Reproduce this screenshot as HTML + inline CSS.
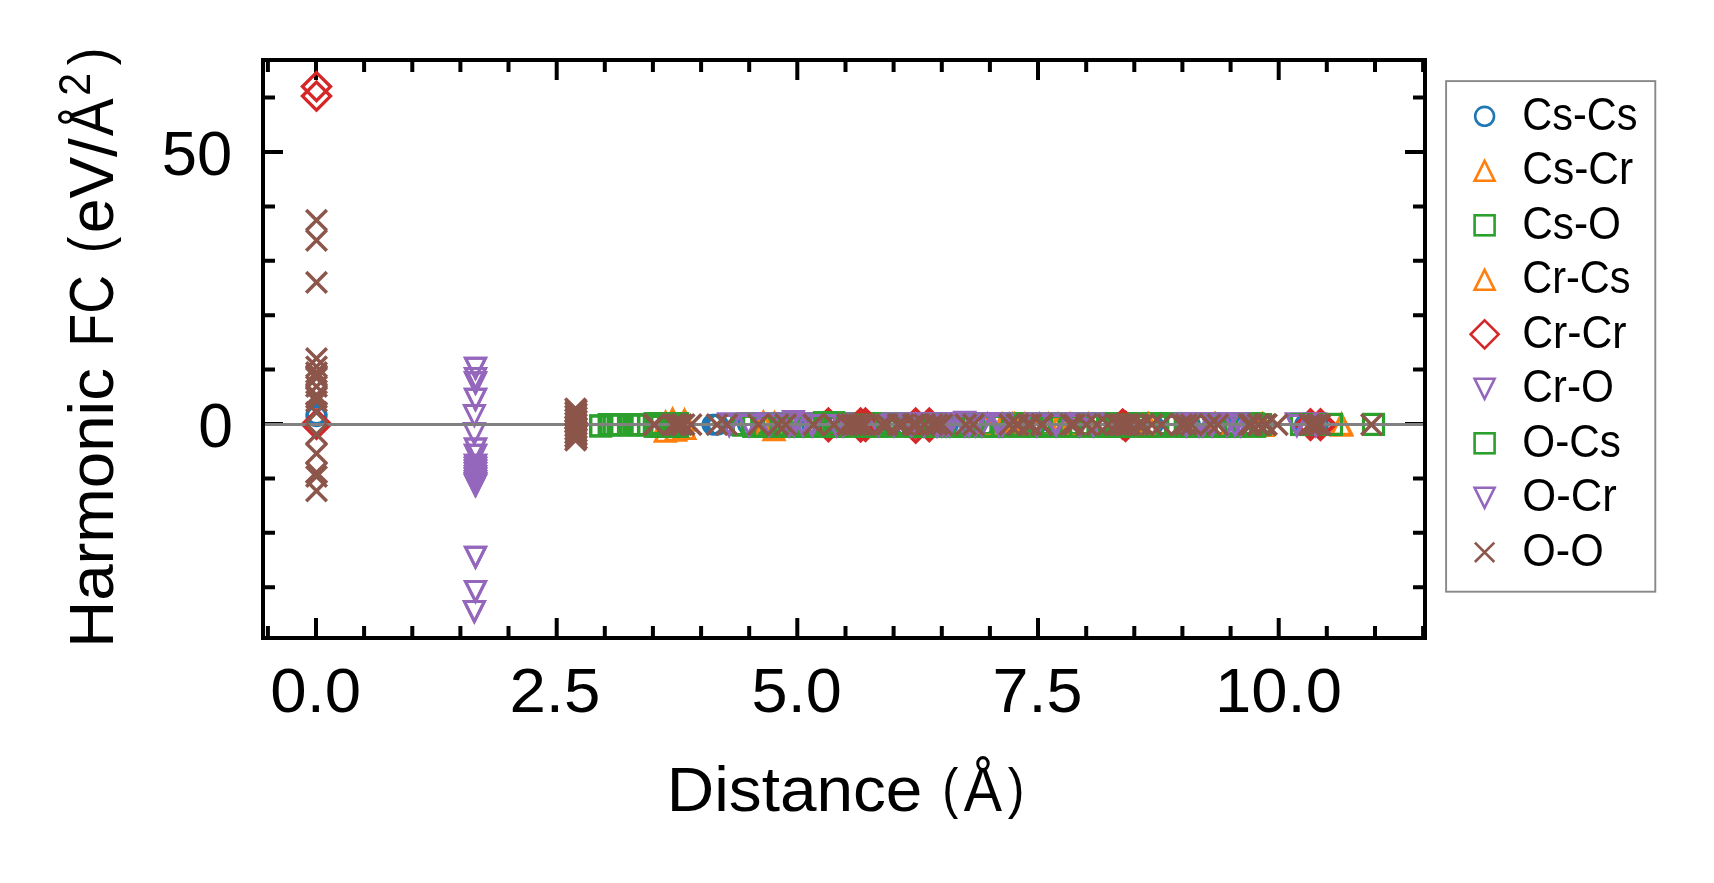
<!DOCTYPE html>
<html><head><meta charset="utf-8"><title>chart</title><style>html,body{margin:0;padding:0;background:#fff}svg{display:block;will-change:transform}</style></head><body><svg width="1714" height="883" viewBox="0 0 1714 883" font-family="'Liberation Sans', sans-serif">
<rect width="1714" height="883" fill="#fff"/>
<path d="M316.0 60v20M316.0 638v-20M556.7 60v20M556.7 638v-20M797.3 60v20M797.3 638v-20M1038.0 60v20M1038.0 638v-20M1278.7 60v20M1278.7 638v-20M267.9 60v12M267.9 638v-12M364.1 60v12M364.1 638v-12M412.3 60v12M412.3 638v-12M460.4 60v12M460.4 638v-12M508.5 60v12M508.5 638v-12M604.8 60v12M604.8 638v-12M652.9 60v12M652.9 638v-12M701.1 60v12M701.1 638v-12M749.2 60v12M749.2 638v-12M845.5 60v12M845.5 638v-12M893.6 60v12M893.6 638v-12M941.8 60v12M941.8 638v-12M989.9 60v12M989.9 638v-12M1086.2 60v12M1086.2 638v-12M1134.3 60v12M1134.3 638v-12M1182.4 60v12M1182.4 638v-12M1230.6 60v12M1230.6 638v-12M1326.8 60v12M1326.8 638v-12M1375.0 60v12M1375.0 638v-12M1423.1 60v12M1423.1 638v-12M263 152.0h20M1425 152.0h-20M263 424.0h20M1425 424.0h-20M263 97.6h12M1425 97.6h-12M263 206.4h12M1425 206.4h-12M263 260.8h12M1425 260.8h-12M263 315.2h12M1425 315.2h-12M263 369.6h12M1425 369.6h-12M263 478.4h12M1425 478.4h-12M263 532.8h12M1425 532.8h-12M263 587.2h12M1425 587.2h-12" stroke="#000" stroke-width="4" fill="none"/>
<g fill="none" stroke-width="3.5" stroke-linejoin="miter" stroke-miterlimit="10">
<g stroke="#1f77b4" stroke-width="2.9"><circle cx="316.5" cy="414.1" r="9.45"/><circle cx="316.5" cy="415.2" r="9.45"/><circle cx="316.5" cy="416.4" r="9.45"/><circle cx="712.4" cy="424.6" r="9.45"/><circle cx="714.0" cy="424.6" r="9.45"/><circle cx="716.0" cy="424.6" r="9.45"/><circle cx="718.0" cy="424.6" r="9.45"/><circle cx="748.0" cy="424.6" r="9.45"/><circle cx="812.0" cy="424.6" r="9.45"/><circle cx="838.0" cy="424.6" r="9.45"/><circle cx="880.0" cy="424.6" r="9.45"/><circle cx="905.0" cy="424.6" r="9.45"/><circle cx="948.0" cy="424.6" r="9.45"/><circle cx="985.0" cy="424.6" r="9.45"/><circle cx="1010.0" cy="424.6" r="9.45"/><circle cx="1036.0" cy="424.6" r="9.45"/><circle cx="1054.5" cy="424.6" r="9.45"/><circle cx="1059.0" cy="424.6" r="9.45"/><circle cx="1098.0" cy="424.6" r="9.45"/><circle cx="1131.0" cy="424.6" r="9.45"/><circle cx="1153.0" cy="424.6" r="9.45"/><circle cx="1190.0" cy="424.6" r="9.45"/><circle cx="1222.0" cy="424.6" r="9.45"/><circle cx="1246.0" cy="424.6" r="9.45"/><circle cx="1262.0" cy="424.6" r="9.45"/><circle cx="1305.0" cy="424.6" r="9.45"/><circle cx="1318.0" cy="424.6" r="9.45"/></g>
<g stroke="#ff7f0e" stroke-width="3.1"><path d="M665.6 412.2L655.6 432.2H675.6Z"/><path d="M672.6 409.1L662.6 429.1H682.6Z"/><path d="M684.5 410.1L674.5 430.1H694.5Z"/><path d="M763.4 412.2L753.4 432.2H773.4Z"/><path d="M774.5 412.9L764.5 432.9H784.5Z"/><path d="M987.5 414.3L977.5 434.3H997.5Z"/><path d="M1002.2 414.3L992.2 434.3H1012.2Z"/><path d="M1009.2 414.3L999.2 434.3H1019.2Z"/><path d="M1012.7 414.3L1002.7 434.3H1022.7Z"/><path d="M1014.5 414.3L1004.5 434.3H1024.5Z"/><path d="M1024.3 414.3L1014.3 434.3H1034.3Z"/><path d="M1039.5 414.3L1029.5 434.3H1049.5Z"/><path d="M1048.4 414.3L1038.4 434.3H1058.4Z"/><path d="M1058.0 414.3L1048.0 434.3H1068.0Z"/><path d="M1070.1 414.3L1060.1 434.3H1080.1Z"/><path d="M1088.3 414.3L1078.3 434.3H1098.3Z"/><path d="M1147.9 414.3L1137.9 434.3H1157.9Z"/><path d="M1148.5 414.3L1138.5 434.3H1158.5Z"/><path d="M1214.5 414.3L1204.5 434.3H1224.5Z"/><path d="M1215.3 414.3L1205.3 434.3H1225.3Z"/><path d="M1262.5 414.3L1252.5 434.3H1272.5Z"/><path d="M1341.5 414.3L1331.5 434.3H1351.5Z"/></g>
<g stroke="#2ca02c" stroke-width="3.1"><rect x="590.7" y="415.9" width="20.0" height="20.0"/><rect x="599.3" y="414.6" width="20.0" height="20.0"/><rect x="600.6" y="414.6" width="20.0" height="20.0"/><rect x="604.1" y="414.6" width="20.0" height="20.0"/><rect x="608.2" y="414.6" width="20.0" height="20.0"/><rect x="611.7" y="414.6" width="20.0" height="20.0"/><rect x="618.5" y="414.6" width="20.0" height="20.0"/><rect x="624.4" y="414.6" width="20.0" height="20.0"/><rect x="627.0" y="414.6" width="20.0" height="20.0"/><rect x="630.5" y="414.6" width="20.0" height="20.0"/><rect x="631.7" y="414.6" width="20.0" height="20.0"/><rect x="638.7" y="414.6" width="20.0" height="20.0"/><rect x="645.0" y="413.6" width="20.0" height="20.0"/><rect x="648.0" y="413.6" width="20.0" height="20.0"/><rect x="651.0" y="413.6" width="20.0" height="20.0"/><rect x="659.0" y="413.6" width="20.0" height="20.0"/><rect x="662.0" y="413.6" width="20.0" height="20.0"/><rect x="665.0" y="413.6" width="20.0" height="20.0"/><rect x="667.6" y="413.6" width="20.0" height="20.0"/><rect x="731.7" y="414.5" width="20.0" height="20.0"/><rect x="742.0" y="413.6" width="20.0" height="20.0"/><rect x="753.0" y="413.6" width="20.0" height="20.0"/><rect x="762.0" y="414.5" width="20.0" height="20.0"/><rect x="769.6" y="413.6" width="20.0" height="20.0"/><rect x="777.5" y="413.6" width="20.0" height="20.0"/><rect x="787.2" y="414.5" width="20.0" height="20.0"/><rect x="796.9" y="413.6" width="20.0" height="20.0"/><rect x="806.6" y="413.6" width="20.0" height="20.0"/><rect x="816.3" y="414.5" width="20.0" height="20.0"/><rect x="826.0" y="413.6" width="20.0" height="20.0"/><rect x="835.7" y="413.6" width="20.0" height="20.0"/><rect x="845.4" y="414.5" width="20.0" height="20.0"/><rect x="855.1" y="413.6" width="20.0" height="20.0"/><rect x="864.8" y="413.6" width="20.0" height="20.0"/><rect x="874.5" y="414.5" width="20.0" height="20.0"/><rect x="884.2" y="413.6" width="20.0" height="20.0"/><rect x="893.9" y="413.6" width="20.0" height="20.0"/><rect x="903.6" y="414.5" width="20.0" height="20.0"/><rect x="913.3" y="413.6" width="20.0" height="20.0"/><rect x="923.0" y="413.6" width="20.0" height="20.0"/><rect x="932.7" y="414.5" width="20.0" height="20.0"/><rect x="942.4" y="413.6" width="20.0" height="20.0"/><rect x="952.1" y="413.6" width="20.0" height="20.0"/><rect x="961.8" y="414.5" width="20.0" height="20.0"/><rect x="971.5" y="413.6" width="20.0" height="20.0"/><rect x="981.2" y="413.6" width="20.0" height="20.0"/><rect x="990.9" y="414.5" width="20.0" height="20.0"/><rect x="1000.6" y="413.6" width="20.0" height="20.0"/><rect x="1010.3" y="413.6" width="20.0" height="20.0"/><rect x="1020.0" y="414.5" width="20.0" height="20.0"/><rect x="1029.7" y="413.6" width="20.0" height="20.0"/><rect x="1039.4" y="413.6" width="20.0" height="20.0"/><rect x="1049.1" y="414.5" width="20.0" height="20.0"/><rect x="1058.8" y="413.6" width="20.0" height="20.0"/><rect x="1068.5" y="413.6" width="20.0" height="20.0"/><rect x="1078.2" y="414.5" width="20.0" height="20.0"/><rect x="1087.9" y="413.6" width="20.0" height="20.0"/><rect x="1097.6" y="413.6" width="20.0" height="20.0"/><rect x="1107.3" y="414.5" width="20.0" height="20.0"/><rect x="1117.0" y="413.6" width="20.0" height="20.0"/><rect x="1126.7" y="413.6" width="20.0" height="20.0"/><rect x="1136.4" y="414.5" width="20.0" height="20.0"/><rect x="1146.1" y="413.6" width="20.0" height="20.0"/><rect x="1155.8" y="413.6" width="20.0" height="20.0"/><rect x="1165.5" y="414.5" width="20.0" height="20.0"/><rect x="1175.2" y="413.6" width="20.0" height="20.0"/><rect x="1184.9" y="413.6" width="20.0" height="20.0"/><rect x="1194.6" y="414.5" width="20.0" height="20.0"/><rect x="1204.3" y="413.6" width="20.0" height="20.0"/><rect x="1214.0" y="413.6" width="20.0" height="20.0"/><rect x="1223.7" y="414.5" width="20.0" height="20.0"/><rect x="1233.4" y="413.6" width="20.0" height="20.0"/><rect x="1243.1" y="413.6" width="20.0" height="20.0"/><rect x="1250.5" y="414.5" width="20.0" height="20.0"/><rect x="1291.5" y="414.4" width="20.0" height="20.0"/><rect x="1321.5" y="414.4" width="20.0" height="20.0"/><rect x="1363.5" y="414.4" width="20.0" height="20.0"/></g>
<g stroke="#ff7f0e" stroke-width="3.1"><path d="M665.3 421.3L655.3 441.3H675.3Z"/><path d="M675.7 420.3L665.7 440.3H685.7Z"/><path d="M684.8 418.5L674.8 438.5H694.8Z"/><path d="M765.1 416.4L755.1 436.4H775.1Z"/><path d="M774.0 419.6L764.0 439.6H784.0Z"/><path d="M987.9 415.4L977.9 435.4H997.9Z"/><path d="M1002.6 415.4L992.6 435.4H1012.6Z"/><path d="M1009.6 415.4L999.6 435.4H1019.6Z"/><path d="M1013.1 415.4L1003.1 435.4H1023.1Z"/><path d="M1014.9 415.4L1004.9 435.4H1024.9Z"/><path d="M1024.7 415.4L1014.7 435.4H1034.7Z"/><path d="M1039.9 415.4L1029.9 435.4H1049.9Z"/><path d="M1048.8 415.4L1038.8 435.4H1058.8Z"/><path d="M1058.4 415.4L1048.4 435.4H1068.4Z"/><path d="M1070.5 415.4L1060.5 435.4H1080.5Z"/><path d="M1088.7 415.4L1078.7 435.4H1098.7Z"/><path d="M1148.3 415.4L1138.3 435.4H1158.3Z"/><path d="M1148.9 415.4L1138.9 435.4H1158.9Z"/><path d="M1214.9 415.4L1204.9 435.4H1224.9Z"/><path d="M1215.7 415.4L1205.7 435.4H1225.7Z"/><path d="M1262.9 415.4L1252.9 435.4H1272.9Z"/><path d="M1341.5 415.3L1331.5 435.3H1351.5Z"/></g>
<g stroke="#d62728" stroke-width="3.4"><path d="M316.5 72.6L330.5 86.6L316.5 100.6L302.5 86.6Z"/><path d="M316.5 82.1L330.5 96.1L316.5 110.1L302.5 96.1Z"/><path d="M316.5 410.3L330.5 424.3L316.5 438.3L302.5 424.3Z"/><path d="M828.4 409.1L842.4 423.1L828.4 437.1L814.4 423.1Z"/><path d="M828.4 412.6L842.4 426.6L828.4 440.6L814.4 426.6Z"/><path d="M860.6 409.1L874.6 423.1L860.6 437.1L846.6 423.1Z"/><path d="M865.5 409.1L879.5 423.1L865.5 437.1L851.5 423.1Z"/><path d="M860.6 412.8L874.6 426.8L860.6 440.8L846.6 426.8Z"/><path d="M865.5 412.3L879.5 426.3L865.5 440.3L851.5 426.3Z"/><path d="M915.7 409.1L929.7 423.1L915.7 437.1L901.7 423.1Z"/><path d="M915.7 414.0L929.7 428.0L915.7 442.0L901.7 428.0Z"/><path d="M929.3 409.1L943.3 423.1L929.3 437.1L915.3 423.1Z"/><path d="M929.3 412.6L943.3 426.6L929.3 440.6L915.3 426.6Z"/><path d="M1122.7 410.1L1136.7 424.1L1122.7 438.1L1108.7 424.1Z"/><path d="M1125.5 412.3L1139.5 426.3L1125.5 440.3L1111.5 426.3Z"/><path d="M1310.5 409.9L1324.5 423.9L1310.5 437.9L1296.5 423.9Z"/><path d="M1320.5 409.9L1334.5 423.9L1320.5 437.9L1306.5 423.9Z"/><path d="M1310.5 411.3L1324.5 425.3L1310.5 439.3L1296.5 425.3Z"/><path d="M1320.5 411.3L1334.5 425.3L1320.5 439.3L1306.5 425.3Z"/></g>
<g stroke="#9467bd" stroke-width="3.0"><path d="M475.5 378.2L465.5 358.2H485.5Z"/><path d="M475.5 388.5L465.5 368.5H485.5Z"/><path d="M475.5 392.8L465.5 372.8H485.5Z"/><path d="M475.5 409.3L465.5 389.3H485.5Z"/><path d="M475.5 459.1L465.5 439.1H485.5Z"/><path d="M475.5 465.3L465.5 445.3H485.5Z"/><path d="M475.5 475.3L465.5 455.3H485.5Z"/><path d="M475.5 478.2L465.5 458.2H485.5Z"/><path d="M475.5 481.0L465.5 461.0H485.5Z"/><path d="M475.5 483.6L465.5 463.6H485.5Z"/><path d="M475.5 486.4L465.5 466.4H485.5Z"/><path d="M475.5 489.0L465.5 469.0H485.5Z"/><path d="M475.5 491.5L465.5 471.5H485.5Z"/><path d="M475.5 493.6L465.5 473.6H485.5Z"/><path d="M475.5 495.3L465.5 475.3H485.5Z"/><path d="M475.5 567.2L465.5 547.2H485.5Z"/><path d="M475.5 601.4L465.5 581.4H485.5Z"/><path d="M474.4 621.5L464.4 601.5H484.4Z"/><path d="M474.4 425.5L464.4 405.5H484.4Z"/><path d="M474.4 443.5L464.4 423.5H484.4Z"/><path d="M728.6 433.7L718.6 413.7H738.6Z"/><path d="M748.5 433.7L738.5 413.7H758.5Z"/><path d="M768.5 433.7L758.5 413.7H778.5Z"/><path d="M788.5 433.7L778.5 413.7H798.5Z"/><path d="M793.4 433.7L783.4 413.7H803.4Z"/><path d="M802.5 433.7L792.5 413.7H812.5Z"/><path d="M811.6 433.7L801.6 413.7H821.6Z"/><path d="M835.8 433.7L825.8 413.7H845.8Z"/><path d="M842.4 433.7L832.4 413.7H852.4Z"/><path d="M893.3 433.7L883.3 413.7H903.3Z"/><path d="M911.0 433.7L901.0 413.7H921.0Z"/><path d="M923.3 433.7L913.3 413.7H933.3Z"/><path d="M935.6 433.7L925.6 413.7H945.6Z"/><path d="M937.0 433.7L927.0 413.7H947.0Z"/><path d="M941.2 433.7L931.2 413.7H951.2Z"/><path d="M945.4 433.7L935.4 413.7H955.4Z"/><path d="M948.9 433.7L938.9 413.7H958.9Z"/><path d="M964.3 433.7L954.3 413.7H974.3Z"/><path d="M968.5 433.7L958.5 413.7H978.5Z"/><path d="M974.8 433.7L964.8 413.7H984.8Z"/><path d="M981.2 433.7L971.2 413.7H991.2Z"/><path d="M998.4 433.7L988.4 413.7H1008.4Z"/><path d="M1001.5 433.7L991.5 413.7H1011.5Z"/><path d="M1036.2 433.7L1026.2 413.7H1046.2Z"/><path d="M1055.4 433.7L1045.4 413.7H1065.4Z"/><path d="M1079.2 433.7L1069.2 413.7H1089.2Z"/><path d="M1092.6 433.7L1082.6 413.7H1102.6Z"/><path d="M1185.7 433.7L1175.7 413.7H1195.7Z"/><path d="M1198.4 433.7L1188.4 413.7H1208.4Z"/><path d="M1202.3 433.7L1192.3 413.7H1212.3Z"/><path d="M1211.4 433.7L1201.4 413.7H1221.4Z"/><path d="M1226.4 433.7L1216.4 413.7H1236.4Z"/><path d="M1234.5 433.7L1224.5 413.7H1244.5Z"/><path d="M1239.7 433.7L1229.7 413.7H1249.7Z"/><path d="M1296.3 433.7L1286.3 413.7H1306.3Z"/><path d="M1315.2 433.7L1305.2 413.7H1325.2Z"/><path d="M793.4 431.6L783.4 411.6H803.4Z"/><path d="M964.7 432.2L954.7 412.2H974.7Z"/></g>
<g stroke="#2ca02c" stroke-width="3.1"><rect x="590.7" y="415.9" width="20.0" height="20.0"/><rect x="599.3" y="414.6" width="20.0" height="20.0"/><rect x="600.6" y="414.6" width="20.0" height="20.0"/><rect x="604.1" y="414.6" width="20.0" height="20.0"/><rect x="608.2" y="414.6" width="20.0" height="20.0"/><rect x="611.7" y="414.6" width="20.0" height="20.0"/><rect x="618.5" y="414.6" width="20.0" height="20.0"/><rect x="624.4" y="414.6" width="20.0" height="20.0"/><rect x="627.0" y="414.6" width="20.0" height="20.0"/><rect x="630.5" y="414.6" width="20.0" height="20.0"/><rect x="631.7" y="414.6" width="20.0" height="20.0"/><rect x="638.7" y="414.6" width="20.0" height="20.0"/><rect x="645.0" y="416.3" width="20.0" height="20.0"/><rect x="648.0" y="416.3" width="20.0" height="20.0"/><rect x="651.0" y="416.3" width="20.0" height="20.0"/><rect x="659.0" y="416.3" width="20.0" height="20.0"/><rect x="662.0" y="416.3" width="20.0" height="20.0"/><rect x="665.0" y="416.3" width="20.0" height="20.0"/><rect x="667.6" y="416.3" width="20.0" height="20.0"/><rect x="733.4" y="415.2" width="20.0" height="20.0"/><rect x="743.7" y="416.4" width="20.0" height="20.0"/><rect x="754.7" y="416.4" width="20.0" height="20.0"/><rect x="763.7" y="416.4" width="20.0" height="20.0"/><rect x="771.3" y="415.2" width="20.0" height="20.0"/><rect x="779.2" y="416.4" width="20.0" height="20.0"/><rect x="788.9" y="416.4" width="20.0" height="20.0"/><rect x="798.6" y="416.4" width="20.0" height="20.0"/><rect x="808.3" y="415.2" width="20.0" height="20.0"/><rect x="818.0" y="416.4" width="20.0" height="20.0"/><rect x="827.7" y="416.4" width="20.0" height="20.0"/><rect x="837.4" y="416.4" width="20.0" height="20.0"/><rect x="847.1" y="415.2" width="20.0" height="20.0"/><rect x="856.8" y="416.4" width="20.0" height="20.0"/><rect x="866.5" y="416.4" width="20.0" height="20.0"/><rect x="876.2" y="416.4" width="20.0" height="20.0"/><rect x="885.9" y="415.2" width="20.0" height="20.0"/><rect x="895.6" y="416.4" width="20.0" height="20.0"/><rect x="905.3" y="416.4" width="20.0" height="20.0"/><rect x="915.0" y="416.4" width="20.0" height="20.0"/><rect x="924.7" y="415.2" width="20.0" height="20.0"/><rect x="934.4" y="416.4" width="20.0" height="20.0"/><rect x="944.1" y="416.4" width="20.0" height="20.0"/><rect x="953.8" y="416.4" width="20.0" height="20.0"/><rect x="963.5" y="415.2" width="20.0" height="20.0"/><rect x="973.2" y="416.4" width="20.0" height="20.0"/><rect x="982.9" y="416.4" width="20.0" height="20.0"/><rect x="992.6" y="416.4" width="20.0" height="20.0"/><rect x="1002.3" y="415.2" width="20.0" height="20.0"/><rect x="1012.0" y="416.4" width="20.0" height="20.0"/><rect x="1021.7" y="416.4" width="20.0" height="20.0"/><rect x="1031.4" y="416.4" width="20.0" height="20.0"/><rect x="1041.1" y="415.2" width="20.0" height="20.0"/><rect x="1050.8" y="416.4" width="20.0" height="20.0"/><rect x="1060.5" y="416.4" width="20.0" height="20.0"/><rect x="1070.2" y="416.4" width="20.0" height="20.0"/><rect x="1079.9" y="415.2" width="20.0" height="20.0"/><rect x="1089.6" y="416.4" width="20.0" height="20.0"/><rect x="1099.3" y="416.4" width="20.0" height="20.0"/><rect x="1109.0" y="416.4" width="20.0" height="20.0"/><rect x="1118.7" y="415.2" width="20.0" height="20.0"/><rect x="1128.4" y="416.4" width="20.0" height="20.0"/><rect x="1138.1" y="416.4" width="20.0" height="20.0"/><rect x="1147.8" y="416.4" width="20.0" height="20.0"/><rect x="1157.5" y="415.2" width="20.0" height="20.0"/><rect x="1167.2" y="416.4" width="20.0" height="20.0"/><rect x="1176.9" y="416.4" width="20.0" height="20.0"/><rect x="1186.6" y="416.4" width="20.0" height="20.0"/><rect x="1196.3" y="415.2" width="20.0" height="20.0"/><rect x="1206.0" y="416.4" width="20.0" height="20.0"/><rect x="1215.7" y="416.4" width="20.0" height="20.0"/><rect x="1225.4" y="416.4" width="20.0" height="20.0"/><rect x="1235.1" y="415.2" width="20.0" height="20.0"/><rect x="1244.8" y="416.4" width="20.0" height="20.0"/><rect x="1250.5" y="414.6" width="20.0" height="20.0"/><rect x="814.4" y="412.6" width="20.0" height="20.0"/><rect x="823.8" y="412.6" width="20.0" height="20.0"/><rect x="1291.5" y="414.5" width="20.0" height="20.0"/><rect x="1321.5" y="414.5" width="20.0" height="20.0"/><rect x="1363.5" y="414.5" width="20.0" height="20.0"/></g>
<g stroke="#9467bd" stroke-width="3.0"><path d="M475.5 378.2L465.5 358.2H485.5Z"/><path d="M475.5 388.5L465.5 368.5H485.5Z"/><path d="M475.5 392.8L465.5 372.8H485.5Z"/><path d="M475.5 409.3L465.5 389.3H485.5Z"/><path d="M475.5 459.1L465.5 439.1H485.5Z"/><path d="M475.5 465.3L465.5 445.3H485.5Z"/><path d="M475.5 475.3L465.5 455.3H485.5Z"/><path d="M475.5 478.2L465.5 458.2H485.5Z"/><path d="M475.5 481.0L465.5 461.0H485.5Z"/><path d="M475.5 483.6L465.5 463.6H485.5Z"/><path d="M475.5 486.4L465.5 466.4H485.5Z"/><path d="M475.5 489.0L465.5 469.0H485.5Z"/><path d="M475.5 491.5L465.5 471.5H485.5Z"/><path d="M475.5 493.6L465.5 473.6H485.5Z"/><path d="M475.5 495.3L465.5 475.3H485.5Z"/><path d="M475.5 567.2L465.5 547.2H485.5Z"/><path d="M475.5 601.4L465.5 581.4H485.5Z"/><path d="M474.4 621.5L464.4 601.5H484.4Z"/><path d="M729.2 435.6L719.2 415.6H739.2Z"/><path d="M749.1 435.6L739.1 415.6H759.1Z"/><path d="M769.1 435.6L759.1 415.6H779.1Z"/><path d="M789.1 435.6L779.1 415.6H799.1Z"/><path d="M794.0 435.6L784.0 415.6H804.0Z"/><path d="M803.1 435.6L793.1 415.6H813.1Z"/><path d="M812.2 435.6L802.2 415.6H822.2Z"/><path d="M836.4 435.6L826.4 415.6H846.4Z"/><path d="M843.0 435.6L833.0 415.6H853.0Z"/><path d="M893.9 435.6L883.9 415.6H903.9Z"/><path d="M911.6 435.6L901.6 415.6H921.6Z"/><path d="M923.9 435.6L913.9 415.6H933.9Z"/><path d="M936.2 435.6L926.2 415.6H946.2Z"/><path d="M937.6 435.6L927.6 415.6H947.6Z"/><path d="M941.8 435.6L931.8 415.6H951.8Z"/><path d="M946.0 435.6L936.0 415.6H956.0Z"/><path d="M949.5 435.6L939.5 415.6H959.5Z"/><path d="M964.9 435.6L954.9 415.6H974.9Z"/><path d="M969.1 435.6L959.1 415.6H979.1Z"/><path d="M975.4 435.6L965.4 415.6H985.4Z"/><path d="M981.8 435.6L971.8 415.6H991.8Z"/><path d="M999.0 435.6L989.0 415.6H1009.0Z"/><path d="M1002.1 435.6L992.1 415.6H1012.1Z"/><path d="M1036.8 435.6L1026.8 415.6H1046.8Z"/><path d="M1056.0 435.6L1046.0 415.6H1066.0Z"/><path d="M1079.8 435.6L1069.8 415.6H1089.8Z"/><path d="M1093.2 435.6L1083.2 415.6H1103.2Z"/><path d="M1186.3 435.6L1176.3 415.6H1196.3Z"/><path d="M1199.0 435.6L1189.0 415.6H1209.0Z"/><path d="M1202.9 435.6L1192.9 415.6H1212.9Z"/><path d="M1212.0 435.6L1202.0 415.6H1222.0Z"/><path d="M1227.0 435.6L1217.0 415.6H1237.0Z"/><path d="M1235.1 435.6L1225.1 415.6H1245.1Z"/><path d="M1240.3 435.6L1230.3 415.6H1250.3Z"/><path d="M1296.9 435.6L1286.9 415.6H1306.9Z"/><path d="M1315.8 435.6L1305.8 415.6H1325.8Z"/><path d="M878.3 435.4L868.3 415.4H888.3Z"/></g>
<path d="M263 424.5H1425" stroke="#808080" stroke-width="2.8"/>
<g stroke="#8c564b" stroke-width="3.5"><path d="M306.2 210.0L326.8 230.6M306.2 230.6L326.8 210.0"/><path d="M306.2 230.1L326.8 250.7M306.2 250.7L326.8 230.1"/><path d="M306.2 272.1L326.8 292.8M306.2 292.8L326.8 272.1"/><path d="M306.2 348.2L326.8 368.8M306.2 368.8L326.8 348.2"/><path d="M306.2 356.4L326.8 377.0M306.2 377.0L326.8 356.4"/><path d="M306.2 362.2L326.8 382.8M306.2 382.8L326.8 362.2"/><path d="M306.2 364.9L326.8 385.5M306.2 385.5L326.8 364.9"/><path d="M306.2 367.7L326.8 388.3M306.2 388.3L326.8 367.7"/><path d="M306.2 376.2L326.8 396.8M306.2 396.8L326.8 376.2"/><path d="M306.2 384.7L326.8 405.3M306.2 405.3L326.8 384.7"/><path d="M306.2 387.3L326.8 407.9M306.2 407.9L326.8 387.3"/><path d="M306.2 390.9L326.8 411.5M306.2 411.5L326.8 390.9"/><path d="M306.2 402.1L326.8 422.7M306.2 422.7L326.8 402.1"/><path d="M306.2 423.9L326.8 444.5M306.2 444.5L326.8 423.9"/><path d="M306.2 443.2L326.8 463.8M306.2 463.8L326.8 443.2"/><path d="M306.2 462.2L326.8 482.8M306.2 482.8L326.8 462.2"/><path d="M306.2 466.2L326.8 486.8M306.2 486.8L326.8 466.2"/><path d="M306.2 480.6L326.8 501.2M306.2 501.2L326.8 480.6"/><path d="M565.2 398.4L585.8 419.0M565.2 419.0L585.8 398.4"/><path d="M566.2 400.1L586.8 420.8M566.2 420.8L586.8 400.1"/><path d="M565.2 401.9L585.8 422.5M565.2 422.5L585.8 401.9"/><path d="M566.2 403.6L586.8 424.2M566.2 424.2L586.8 403.6"/><path d="M565.2 405.4L585.8 426.0M565.2 426.0L585.8 405.4"/><path d="M566.2 407.1L586.8 427.8M566.2 427.8L586.8 407.1"/><path d="M565.2 408.9L585.8 429.5M565.2 429.5L585.8 408.9"/><path d="M566.2 410.6L586.8 431.2M566.2 431.2L586.8 410.6"/><path d="M565.2 412.4L585.8 433.0M565.2 433.0L585.8 412.4"/><path d="M566.2 414.1L586.8 434.8M566.2 434.8L586.8 414.1"/><path d="M565.2 415.9L585.8 436.5M565.2 436.5L585.8 415.9"/><path d="M566.2 417.6L586.8 438.2M566.2 438.2L586.8 417.6"/><path d="M565.2 419.4L585.8 440.0M565.2 440.0L585.8 419.4"/><path d="M566.2 421.1L586.8 441.8M566.2 441.8L586.8 421.1"/><path d="M565.2 422.9L585.8 443.5M565.2 443.5L585.8 422.9"/><path d="M566.2 424.6L586.8 445.2M566.2 445.2L586.8 424.6"/><path d="M565.2 426.4L585.8 447.0M565.2 447.0L585.8 426.4"/><path d="M566.2 428.1L586.8 448.8M566.2 448.8L586.8 428.1"/><path d="M565.2 429.9L585.8 450.5M565.2 450.5L585.8 429.9"/><path d="M643.6 414.3L664.2 434.9M643.6 434.9L664.2 414.3"/><path d="M644.5 414.3L665.1 434.9M644.5 434.9L665.1 414.3"/><path d="M662.6 414.3L683.2 434.9M662.6 434.9L683.2 414.3"/><path d="M665.4 414.3L686.0 434.9M665.4 434.9L686.0 414.3"/><path d="M667.9 414.3L688.5 434.9M667.9 434.9L688.5 414.3"/><path d="M671.0 414.3L691.6 434.9M671.0 434.9L691.6 414.3"/><path d="M673.8 414.3L694.4 434.9M673.8 434.9L694.4 414.3"/><path d="M680.8 414.3L701.4 434.9M680.8 434.9L701.4 414.3"/><path d="M706.7 414.3L727.3 434.9M706.7 434.9L727.3 414.3"/><path d="M716.5 414.3L737.1 434.9M716.5 434.9L737.1 414.3"/><path d="M748.1 414.3L768.7 434.9M748.1 434.9L768.7 414.3"/><path d="M767.7 414.3L788.3 434.9M767.7 434.9L788.3 414.3"/><path d="M775.4 414.3L796.0 434.9M775.4 434.9L796.0 414.3"/><path d="M803.4 414.3L824.0 434.9M803.4 434.9L824.0 414.3"/><path d="M823.7 414.3L844.3 434.9M823.7 434.9L844.3 414.3"/><path d="M837.0 414.3L857.6 434.9M837.0 434.9L857.6 414.3"/><path d="M841.2 414.3L861.8 434.9M841.2 434.9L861.8 414.3"/><path d="M845.2 414.3L865.8 434.9M845.2 434.9L865.8 414.3"/><path d="M848.7 414.3L869.3 434.9M848.7 434.9L869.3 414.3"/><path d="M851.7 414.3L872.3 434.9M851.7 434.9L872.3 414.3"/><path d="M854.6 414.3L875.2 434.9M854.6 434.9L875.2 414.3"/><path d="M872.1 414.3L892.7 434.9M872.1 434.9L892.7 414.3"/><path d="M876.7 414.3L897.3 434.9M876.7 434.9L897.3 414.3"/><path d="M887.7 414.3L908.3 434.9M887.7 434.9L908.3 414.3"/><path d="M892.8 414.3L913.4 434.9M892.8 434.9L913.4 414.3"/><path d="M902.9 414.3L923.5 434.9M902.9 434.9L923.5 414.3"/><path d="M906.7 414.3L927.3 434.9M906.7 434.9L927.3 414.3"/><path d="M914.2 414.3L934.8 434.9M914.2 434.9L934.8 414.3"/><path d="M921.7 414.3L942.3 434.9M921.7 434.9L942.3 414.3"/><path d="M926.7 414.3L947.3 434.9M926.7 434.9L947.3 414.3"/><path d="M931.6 414.3L952.2 434.9M931.6 434.9L952.2 414.3"/><path d="M955.4 414.3L976.0 434.9M955.4 434.9L976.0 414.3"/><path d="M963.2 414.3L983.8 434.9M963.2 434.9L983.8 414.3"/><path d="M999.3 414.3L1019.9 434.9M999.3 434.9L1019.9 414.3"/><path d="M1006.6 414.3L1027.2 434.9M1006.6 434.9L1027.2 414.3"/><path d="M1008.2 414.3L1028.8 434.9M1008.2 434.9L1028.8 414.3"/><path d="M1017.8 414.3L1038.4 434.9M1017.8 434.9L1038.4 414.3"/><path d="M1020.6 414.3L1041.2 434.9M1020.6 434.9L1041.2 414.3"/><path d="M1031.2 414.3L1051.8 434.9M1031.2 434.9L1051.8 414.3"/><path d="M1032.2 414.3L1052.8 434.9M1032.2 434.9L1052.8 414.3"/><path d="M1060.5 414.3L1081.1 434.9M1060.5 434.9L1081.1 414.3"/><path d="M1064.0 414.3L1084.6 434.9M1064.0 434.9L1084.6 414.3"/><path d="M1076.1 414.3L1096.7 434.9M1076.1 434.9L1096.7 414.3"/><path d="M1086.7 414.3L1107.3 434.9M1086.7 434.9L1107.3 414.3"/><path d="M1097.6 414.3L1118.2 434.9M1097.6 434.9L1118.2 414.3"/><path d="M1106.0 414.3L1126.6 434.9M1106.0 434.9L1126.6 414.3"/><path d="M1108.9 414.3L1129.5 434.9M1108.9 434.9L1129.5 414.3"/><path d="M1111.7 414.3L1132.3 434.9M1111.7 434.9L1132.3 414.3"/><path d="M1114.5 414.3L1135.1 434.9M1114.5 434.9L1135.1 414.3"/><path d="M1117.3 414.3L1137.9 434.9M1117.3 434.9L1137.9 414.3"/><path d="M1119.9 414.3L1140.5 434.9M1119.9 434.9L1140.5 414.3"/><path d="M1127.7 414.3L1148.3 434.9M1127.7 434.9L1148.3 414.3"/><path d="M1132.7 414.3L1153.3 434.9M1132.7 434.9L1153.3 414.3"/><path d="M1141.7 414.3L1162.3 434.9M1141.7 434.9L1162.3 414.3"/><path d="M1151.3 414.3L1171.9 434.9M1151.3 434.9L1171.9 414.3"/><path d="M1171.2 414.3L1191.8 434.9M1171.2 434.9L1191.8 414.3"/><path d="M1175.7 414.3L1196.3 434.9M1175.7 434.9L1196.3 414.3"/><path d="M1180.9 414.3L1201.5 434.9M1180.9 434.9L1201.5 414.3"/><path d="M1200.0 414.3L1220.6 434.9M1200.0 434.9L1220.6 414.3"/><path d="M1207.5 414.3L1228.1 434.9M1207.5 434.9L1228.1 414.3"/><path d="M1238.5 414.3L1259.1 434.9M1238.5 434.9L1259.1 414.3"/><path d="M1241.2 414.3L1261.8 434.9M1241.2 434.9L1261.8 414.3"/><path d="M1247.9 414.3L1268.5 434.9M1247.9 434.9L1268.5 414.3"/><path d="M1248.7 414.3L1269.3 434.9M1248.7 434.9L1269.3 414.3"/><path d="M1254.9 414.3L1275.5 434.9M1254.9 434.9L1275.5 414.3"/><path d="M1256.2 414.3L1276.8 434.9M1256.2 434.9L1276.8 414.3"/><path d="M1267.0 414.3L1287.6 434.9M1267.0 434.9L1287.6 414.3"/><path d="M1299.3 414.3L1319.9 434.9M1299.3 434.9L1319.9 414.3"/><path d="M1302.4 414.3L1323.0 434.9M1302.4 434.9L1323.0 414.3"/><path d="M1307.0 414.3L1327.6 434.9M1307.0 434.9L1327.6 414.3"/><path d="M1310.1 414.3L1330.7 434.9M1310.1 434.9L1330.7 414.3"/><path d="M1361.2 414.3L1381.8 434.9M1361.2 434.9L1381.8 414.3"/></g>
</g>
<rect x="263" y="60" width="1162" height="578" fill="none" stroke="#000" stroke-width="4"/>
<rect x="1446.1" y="81.1" width="209.2" height="510.6" fill="#fff" stroke="#888" stroke-width="1.9"/>
<g fill="none" stroke-width="2.6" stroke-miterlimit="10">
<g stroke="#1f77b4"><circle cx="1484.6" cy="116.3" r="9.45"/></g>
<g stroke="#ff7f0e"><path d="M1484.6 160.8L1474.6 180.8H1494.6Z"/></g>
<g stroke="#2ca02c"><rect x="1474.6" y="215.3" width="20.0" height="20.0"/></g>
<g stroke="#ff7f0e"><path d="M1484.6 269.8L1474.6 289.8H1494.6Z"/></g>
<g stroke="#d62728"><path d="M1484.6 320.3L1498.6 334.3L1484.6 348.3L1470.6 334.3Z"/></g>
<g stroke="#9467bd"><path d="M1484.6 398.8L1474.6 378.8H1494.6Z"/></g>
<g stroke="#2ca02c"><rect x="1474.6" y="433.3" width="20.0" height="20.0"/></g>
<g stroke="#9467bd"><path d="M1484.6 507.8L1474.6 487.8H1494.6Z"/></g>
<g stroke="#8c564b"><path d="M1474.9 542.6l19.4 19.4m-19.4 0l19.4 -19.4"/></g>
</g>
<text transform="translate(1522.23 129.70) scale(0.9019 1.0000)" font-size="46" >Cs-Cs</text>
<text transform="translate(1522.17 184.20) scale(0.9251 1.0000)" font-size="46" >Cs-Cr</text>
<text transform="translate(1522.18 238.70) scale(0.9201 1.0000)" font-size="46" >Cs-O</text>
<text transform="translate(1522.23 293.20) scale(0.9014 1.0000)" font-size="46" >Cr-Cs</text>
<text transform="translate(1522.16 347.70) scale(0.9290 1.0000)" font-size="46" >Cr-Cr</text>
<text transform="translate(1522.18 402.20) scale(0.9211 1.0000)" font-size="46" >Cr-O</text>
<text transform="translate(1522.29 456.70) scale(0.9198 1.0000)" font-size="46" >O-Cs</text>
<text transform="translate(1522.23 511.20) scale(0.9481 1.0000)" font-size="46" >O-Cr</text>
<text transform="translate(1522.25 565.70) scale(0.9387 1.0000)" font-size="46" >O-O</text>
<text transform="translate(270.34 711.80) scale(1.0504 1.0000)" font-size="62.2" >0.0</text>
<text transform="translate(509.43 711.80) scale(1.0524 1.0000)" font-size="62.2" >2.5</text>
<text transform="translate(751.61 711.80) scale(1.0424 1.0000)" font-size="62.2" >5.0</text>
<text transform="translate(992.57 711.80) scale(1.0401 1.0000)" font-size="62.2" >7.5</text>
<text transform="translate(1215.01 711.80) scale(1.0484 1.0000)" font-size="62.2" >10.0</text>
<text transform="translate(161.77 175.00) scale(1.0184 1.0000)" font-size="62.2" >50</text>
<text transform="translate(198.20 447.30) scale(1.0034 1.0000)" font-size="62.2" >0</text>
<text transform="translate(666.78 811.20) scale(1.0560 1.0000)" font-size="62.2" >Distance</text>
<text transform="translate(942.18 807.40) scale(0.7766 0.9000)" font-size="62.2" >(</text>
<text transform="translate(963.76 811.20) scale(0.9222 1.0150)" font-size="62.2" >Å</text>
<text transform="translate(1007.82 807.40) scale(0.8069 0.9000)" font-size="62.2" >)</text>
<g transform="translate(113.0 0) rotate(-90)">
<text transform="translate(-648.10 0.00) scale(1.0521 1.0000)" font-size="62.2" >Harmonic</text>
<text transform="translate(-346.63 0.00) scale(0.8632 1.0000)" font-size="62.2" >FC</text>
<text transform="translate(-252.97 -4.00) scale(0.7887 0.9100)" font-size="62.2" >(</text>
<text transform="translate(-233.36 0.00) scale(1.0070 1.0000)" font-size="62.2" >eV</text>
<text transform="translate(-157.10 3.20) scale(1.0834 1.0800)" font-size="62.2" >/</text>
<text transform="translate(-136.04 0.00) scale(0.9052 1.0150)" font-size="62.2" >Å</text>
<text transform="translate(-95.65 -23.10) scale(0.6608 0.7100)" font-size="62.2" >2</text>
<text transform="translate(-65.30 -4.00) scale(0.8554 0.9100)" font-size="62.2" >)</text>
</g>
</svg></body></html>
